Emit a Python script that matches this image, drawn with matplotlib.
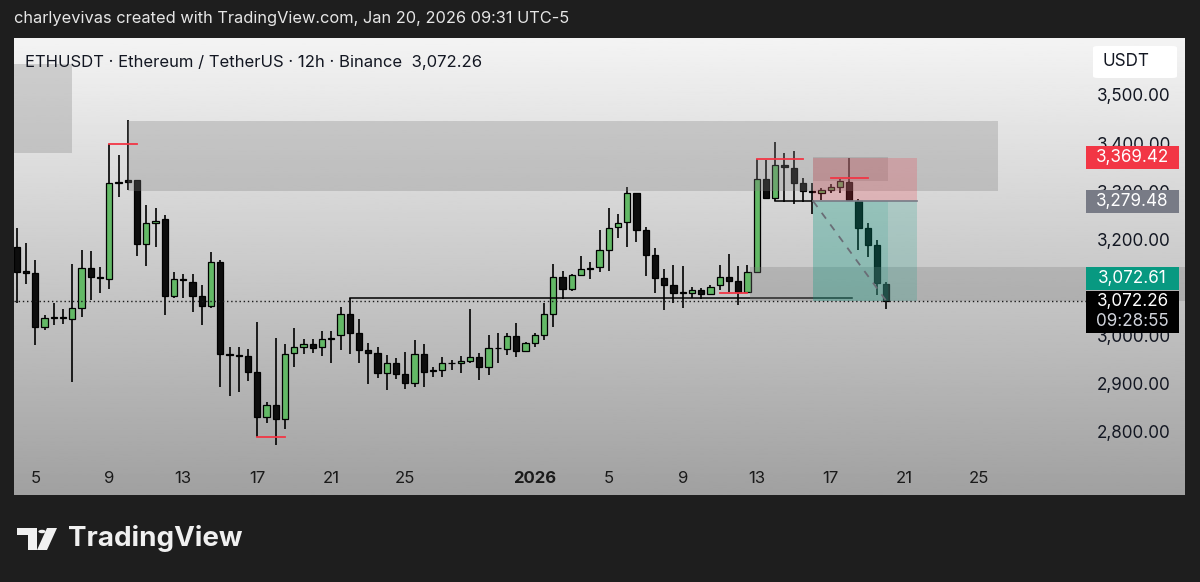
import matplotlib
matplotlib.use('Agg')
import matplotlib.pyplot as plt
import matplotlib.dates as mdates
import matplotlib.transforms as mtransforms
from matplotlib.patches import Rectangle, Polygon, Circle, FancyBboxPatch
import numpy as np
from datetime import datetime, timedelta

plt.rcParams['font.family'] = ['Inter', 'DejaVu Sans']

W, H = 1200, 582

# 12h candles, ETHUSDT, starting Dec 4 2025 00:00
opens = [3185, 3134, 3130, 3018, 3037, 3038, 3035, 3058, 3141, 3122,
         3118, 3317, 3323, 3323, 3190, 3234, 3242, 3082, 3118, 3112,
         3082, 3062, 3153, 2962, 2959, 2958, 2925, 2831, 2856, 2827,
         2964, 2976, 2983, 2976, 2993, 3001, 3045, 3006, 2970, 2964,
         2922, 2943, 2921, 2902, 2962, 2927, 2929, 2943, 2943, 2948,
         2956, 2935, 2974, 2972, 2999, 2968, 2985, 3001, 3045, 3122,
         3097, 3126, 3138, 3142, 3178, 3225, 3236, 3296, 3220, 3168,
         3120, 3105, 3089, 3089, 3095, 3087, 3105, 3122, 3114, 3091,
         3132, 3325, 3286, 3354, 3348, 3317, 3300, 3296, 3302, 3309,
         3319, 3280, 3224, 3188, 3108]
highs = [3224, 3192, 3157, 3043, 3068, 3055, 3149, 3178, 3176, 3143,
         3398, 3375, 3448, 3324, 3271, 3265, 3251, 3132, 3128, 3128,
         3105, 3174, 3157, 2976, 2976, 2972, 3028, 2862, 2995, 2983,
         3016, 2993, 2993, 3010, 3010, 3060, 3078, 3035, 2985, 2976,
         2960, 2954, 2966, 2991, 2983, 2935, 2956, 2950, 2958, 3055,
         2964, 3001, 3006, 3006, 3026, 2987, 3006, 3068, 3149, 3134,
         3128, 3165, 3153, 3220, 3265, 3253, 3309, 3297, 3226, 3182,
         3138, 3147, 3145, 3101, 3099, 3105, 3147, 3170, 3145, 3147,
         3367, 3365, 3402, 3379, 3384, 3328, 3317, 3307, 3315, 3325,
         3369, 3284, 3234, 3199, 3112]
lows = [3068, 3107, 2981, 3012, 3022, 3024, 2904, 3039, 3074, 3089,
        3097, 3288, 3302, 3165, 3145, 3184, 3043, 3078, 3078, 3049,
        3022, 3057, 2893, 2875, 2883, 2906, 2790, 2819, 2773, 2806,
        2935, 2962, 2965, 2958, 2943, 2970, 2962, 2943, 2900, 2912,
        2887, 2910, 2889, 2893, 2893, 2914, 2914, 2929, 2922, 2943,
        2908, 2918, 2943, 2960, 2956, 2966, 2976, 2991, 3018, 3076,
        3093, 3124, 3118, 3132, 3134, 3203, 3184, 3195, 3124, 3089,
        3053, 3068, 3057, 3078, 3076, 3085, 3095, 3091, 3064, 3089,
        3130, 3284, 3280, 3278, 3274, 3278, 3253, 3282, 3297, 3296,
        3280, 3178, 3163, 3084, 3055]
closes = [3132, 3131, 3018, 3037, 3038, 3037, 3058, 3141, 3122, 3120,
          3317, 3319, 3320, 3190, 3234, 3238, 3082, 3118, 3116, 3082,
          3062, 3153, 2962, 2959, 2957, 2925, 2831, 2856, 2827, 2962,
          2976, 2983, 2975, 2993, 2996, 3045, 3006, 2970, 2964, 2922,
          2943, 2920, 2902, 2962, 2925, 2929, 2943, 2944, 2948, 2956,
          2935, 2974, 2975, 2999, 2968, 2985, 3001, 3045, 3122, 3097,
          3126, 3138, 3140, 3178, 3224, 3234, 3296, 3220, 3168, 3120,
          3105, 3089, 3090, 3095, 3087, 3101, 3122, 3114, 3091, 3132,
          3325, 3286, 3354, 3350, 3317, 3300, 3298, 3302, 3309, 3321,
          3282, 3224, 3188, 3109, 3072.26]

start = datetime(2025, 12, 4)
times = [start + timedelta(hours=12 * i) for i in range(len(opens))]

tick_dates = [datetime(2025, 12, d) for d in (5, 9, 13, 17, 21, 25)] + \
             [datetime(2026, 1, d) for d in (1, 5, 9, 13, 17, 21, 25)]
tick_labels = ['5', '9', '13', '17', '21', '25', '2026', '5', '9', '13', '17', '21', '25']
# 3,100 sits behind the price labels in the screenshot, so it is not listed
price_ticks = [2800, 2900, 3000, 3200, 3300, 3400, 3500]

# drawings (bar index, price)
zones = [(-5, 6, 3379, 3564), (12, 106.1, 3300, 3446),
         (86.1, 94.2, 3322, 3372), (79.3, 130, 3072, 3143)]
red_marks = [(10, 13, 3398), (26, 29, 2789), (80, 85, 3367), (88, 92, 3328), (76, 79, 3088)]
entry, stop, target = 3279.48, 3369.42, 3072.61
last_price = 3072.26
pos_start, pos_end, pos_now = 86.1, 97.3, 94.2


def at(i):
    return mdates.date2num(start) + i * 0.5


fig = plt.figure(figsize=(W / 100, H / 100), dpi=100, facecolor='#1e1e1e')
ax = fig.add_axes([14 / W, 1 - 495 / H, 1171 / W, 457 / H])
x0, x1 = at(-0.3), at(126.3)
y0, y1 = 2669.0, 3618.4
ppx = (y1 - y0) / 457.0

grad = np.linspace(0.955, 0.63, 256).reshape(-1, 1)
ax.imshow(grad, extent=[x0, x1, y0, y1], aspect='auto', cmap='gray',
          vmin=0, vmax=1, origin='upper', zorder=0)

x = mdates.date2num(times)
o = np.array(opens, float)
c = np.array(closes, float)
cols = ['#63b966' if cc > oo else '#0d0d0d' for oo, cc in zip(o, c)]
ax.vlines(x, lows, highs, color='black', lw=1.2, zorder=2)
ax.bar(x, np.abs(c - o), bottom=np.minimum(o, c), width=0.33, color=cols,
       edgecolor='black', linewidth=0.9, zorder=3)

for a, b, lo, hi in zones:
    ax.add_patch(Rectangle((at(a), lo), at(b) - at(a), hi - lo, facecolor='#808080',
                           alpha=0.3, lw=0, zorder=4))

# short position tool
ax.add_patch(Rectangle((at(pos_start), entry), at(pos_end) - at(pos_start), stop - entry,
                       facecolor='#f23645', alpha=0.22, lw=0, zorder=5))
ax.add_patch(Rectangle((at(pos_start), target), at(pos_end) - at(pos_start), entry - target,
                       facecolor='#089981', alpha=0.2, lw=0, zorder=5))
ax.add_patch(Rectangle((at(pos_start), target), at(pos_now) - at(pos_start), entry - target,
                       facecolor='#089981', alpha=0.14, lw=0, zorder=5))
ax.plot([at(pos_start), at(pos_end)], [entry, entry], color='#787b86', lw=1.2, zorder=6)
ax.plot([at(pos_start), at(94)], [entry, last_price], color='#6a6d76', lw=1.3,
        ls=(0, (4, 4)), zorder=6)

# levels
ax.plot([at(36), at(90.3)], [3078, 3078], color='black', lw=1.1, zorder=3)
ax.plot([at(82), at(pos_start)], [3280, 3280], color='black', lw=1.1, zorder=3)
for a, b, p in red_marks:
    ax.plot([at(a), at(b)], [p, p], color='#f23645', lw=1.3, zorder=6)

ax.axhline(last_price, xmin=0, xmax=(1086 - 14) / 1171, color='#1a1a1a', lw=1.0,
           ls=(0, (1, 2)), zorder=6)

ax.set_xlim(x0, x1)
ax.set_ylim(y0, y1)
for s in ax.spines.values():
    s.set_visible(False)

ax.set_xticks(mdates.date2num(tick_dates))
ax.set_xticklabels(tick_labels)
ax.get_xticklabels()[6].set_fontweight('bold')
ax.tick_params(axis='x', length=0, pad=-17.5, labelsize=12, labelcolor='#1a1a1a')
ax.yaxis.tick_right()
ax.set_yticks(price_ticks)
ax.set_yticklabels(['{:,.2f}'.format(p) for p in price_ticks])
ax.tick_params(axis='y', length=0, pad=-63.4, labelsize=12.3, labelcolor='#131722')

# price scale labels
bt = mtransforms.blended_transform_factory(ax.transAxes, ax.transData)
lx0, lx1 = (1086 - 14) / 1171, (1179 - 14) / 1171
lxm = (lx0 + lx1) / 2


def price_label(center, text, color, tcolor='white'):
    ax.add_patch(Rectangle((lx0, center - 11.5 * ppx), lx1 - lx0, 23 * ppx, transform=bt,
                           facecolor=color, lw=0, zorder=10, clip_on=False))
    ax.text(lxm, center, text, transform=bt, ha='center', va='center', fontsize=12.3,
            color=tcolor, zorder=11)


price_label(stop, '{:,.2f}'.format(stop), '#f23645')
price_label(entry, '{:,.2f}'.format(entry), '#787b86')
price_label(target + 22 * ppx, '{:,.2f}'.format(target), '#089981')
ax.add_patch(Rectangle((lx0, last_price - 32.3 * ppx), lx1 - lx0, 42 * ppx, transform=bt,
                       facecolor='black', lw=0, zorder=10))
ax.text(lxm, last_price - 1 * ppx, '{:,.2f}'.format(last_price), transform=bt,
        ha='center', va='center', fontsize=12.3, color='white', zorder=11)
ax.text(lxm, last_price - 21 * ppx, '09:28:55', transform=bt, ha='center', va='center',
        fontsize=12.3, color='#d1d4dc', zorder=11)

ax.add_patch(FancyBboxPatch(((1093 - 14) / 1171, (495 - 78) / 457), 84 / 1171, 32 / 457,
                            boxstyle='round,pad=0,rounding_size=0.004', transform=ax.transAxes,
                            facecolor='white', lw=0, zorder=10))
ax.text((1103 - 14) / 1171, (495 - 62) / 457, 'USDT', transform=ax.transAxes,
        ha='left', va='center', fontsize=12.3, color='#131722', zorder=11)

# header texts
fig.text(14 / W, 1 - 18 / H, 'charlyevivas created with TradingView.com, Jan 20, 2026 09:31 UTC-5',
         ha='left', va='center', fontsize=11.8, color='#e6e6e6')
ax.text((25 - 14) / 1171, (495 - 63) / 457, 'ETHUSDT · Ethereum / TetherUS · 12h · Binance  3,072.26',
        transform=ax.transAxes, ha='left', va='center', fontsize=12, color='#131722', zorder=11)

# TradingView logo


def fp(px, py):
    return (px / W, 1 - py / H)


logo_col = '#f0f0f0'
fig.patches.append(Polygon([fp(17, 528), fp(37, 528), fp(37, 550), fp(28, 550), fp(28, 535),
                            fp(17, 535)], closed=True, transform=fig.transFigure,
                           facecolor=logo_col, lw=0))
fig.patches.append(Circle(fp(42, 531.5), 3.6 / W, transform=fig.transFigure,
                          facecolor=logo_col, lw=0))
fig.patches.append(Polygon([fp(47, 528), fp(57, 528), fp(47, 550), fp(37, 550)], closed=True,
                           transform=fig.transFigure, facecolor=logo_col, lw=0))
fig.text(68 / W, 1 - 539 / H, 'TradingView', ha='left', va='center', fontsize=20,
         fontweight='bold', color=logo_col)

fig.savefig('out.png', dpi=100, facecolor=fig.get_facecolor())
